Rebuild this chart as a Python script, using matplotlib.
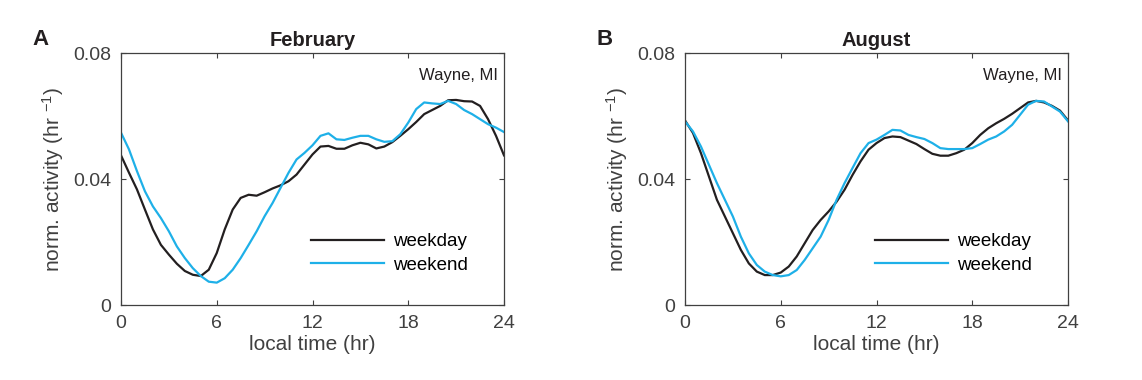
import numpy as np
import matplotlib as mpl
import matplotlib.pyplot as plt

# hours 0..24 in half-hour steps
hours = np.arange(0, 24.5, 0.5)

feb_weekday = [0.0475, 0.0420, 0.0367, 0.0303, 0.0240, 0.0191, 0.0160, 0.0131, 0.0108, 0.0096,
               0.0092, 0.0112, 0.0165, 0.0240, 0.0303, 0.0340, 0.0350, 0.0347, 0.0358, 0.0370,
               0.0380, 0.0393, 0.0414, 0.0446, 0.0478, 0.0503, 0.0505, 0.0496, 0.0496, 0.0507,
               0.0515, 0.0510, 0.0497, 0.0503, 0.0517, 0.0537, 0.0558, 0.0581, 0.0606, 0.0619,
               0.0632, 0.0650, 0.0651, 0.0647, 0.0646, 0.0632, 0.0590, 0.0537, 0.0475]
feb_weekend = [0.0547, 0.0494, 0.0425, 0.0361, 0.0313, 0.0276, 0.0234, 0.0186, 0.0149, 0.0117,
               0.0092, 0.0074, 0.0071, 0.0085, 0.0112, 0.0149, 0.0191, 0.0234, 0.0282, 0.0324,
               0.0372, 0.0420, 0.0462, 0.0483, 0.0507, 0.0537, 0.0545, 0.0526, 0.0524, 0.0531,
               0.0537, 0.0537, 0.0526, 0.0518, 0.0520, 0.0542, 0.0579, 0.0622, 0.0643, 0.0640,
               0.0638, 0.0648, 0.0638, 0.0619, 0.0606, 0.0590, 0.0574, 0.0563, 0.0549]
aug_weekday = [0.0586, 0.0546, 0.0482, 0.0408, 0.0334, 0.0281, 0.0228, 0.0175, 0.0132, 0.0106,
               0.0095, 0.0095, 0.0103, 0.0122, 0.0154, 0.0196, 0.0238, 0.0270, 0.0297, 0.0328,
               0.0366, 0.0413, 0.0456, 0.0493, 0.0514, 0.0530, 0.0535, 0.0533, 0.0522, 0.0511,
               0.0495, 0.0480, 0.0474, 0.0474, 0.0482, 0.0493, 0.0514, 0.0540, 0.0561, 0.0577,
               0.0591, 0.0607, 0.0625, 0.0643, 0.0648, 0.0643, 0.0632, 0.0617, 0.0586]
aug_weekend = [0.0583, 0.0551, 0.0503, 0.0445, 0.0387, 0.0334, 0.0281, 0.0217, 0.0164, 0.0127,
               0.0106, 0.0095, 0.0091, 0.0095, 0.0111, 0.0143, 0.0180, 0.0217, 0.0270, 0.0334,
               0.0387, 0.0435, 0.0482, 0.0514, 0.0525, 0.0540, 0.0556, 0.0554, 0.0540, 0.0533,
               0.0527, 0.0514, 0.0498, 0.0495, 0.0495, 0.0495, 0.0498, 0.0511, 0.0525, 0.0535,
               0.0551, 0.0572, 0.0604, 0.0636, 0.0648, 0.0646, 0.0630, 0.0614, 0.0583]

panels = [('A', 'February', feb_weekday, feb_weekend),
          ('B', 'August', aug_weekday, aug_weekend)]
xticks = [0, 6, 12, 18, 24]
yticks = [0, 0.04, 0.08]
yticklabels = ['0', '0.04', '0.08']

mpl.rcParams.update({'font.family': 'Liberation Sans',
                     'mathtext.fontset': 'custom',
                     'mathtext.rm': 'Liberation Sans',
                     'mathtext.it': 'Liberation Sans:italic',
                     'font.size': 14})

gray = '#404040'
black = '#231f20'
blue = '#1eb0e8'

fig = plt.figure(figsize=(11.42, 3.8), dpi=100)
lefts = [121/1142, 685/1142]
for left, (letter, month, wd, we) in zip(lefts, panels):
	ax = fig.add_axes([left, 1 - 305/380, 383/1142, 252/380])
	ax.plot(hours, wd, color=black, lw=1.6, label='weekday')
	ax.plot(hours, we, color=blue, lw=1.6, label='weekend')
	ax.set_xlim(0, 24)
	ax.set_ylim(0, 0.08)
	ax.set_xticks(xticks)
	ax.set_yticks(yticks)
	ax.set_yticklabels(yticklabels)
	ax.tick_params(direction='in', top=True, right=True, colors=gray,
				   labelcolor=gray, labelsize=14, length=3.5, width=0.8, pad=7)
	for s in ax.spines.values():
		s.set_color(gray)
		s.set_linewidth(0.9)
	ax.set_xlabel('local time (hr)', color=gray, fontsize=15, labelpad=2)
	ax.set_ylabel(r'norm. activity (hr $^{-1}$)', color=gray, fontsize=15, labelpad=5)
	ax.set_title(month, fontweight='bold', fontsize=14.5, color=black, pad=5)
	ax.text(0.985, 0.91, 'Wayne, MI', transform=ax.transAxes, ha='right', va='center',
			fontsize=12, color=black)
	ax.text(-0.23, 1.054, letter, transform=ax.transAxes, ha='left', va='center',
			fontsize=16, fontweight='bold', color=black)
	ax.legend(loc='lower right', bbox_to_anchor=(0.949, 0.056), frameon=False,
			  handlelength=3.9, handletextpad=0.45, labelspacing=0.35, fontsize=13.5)

plt.savefig('out.png', dpi=100)
